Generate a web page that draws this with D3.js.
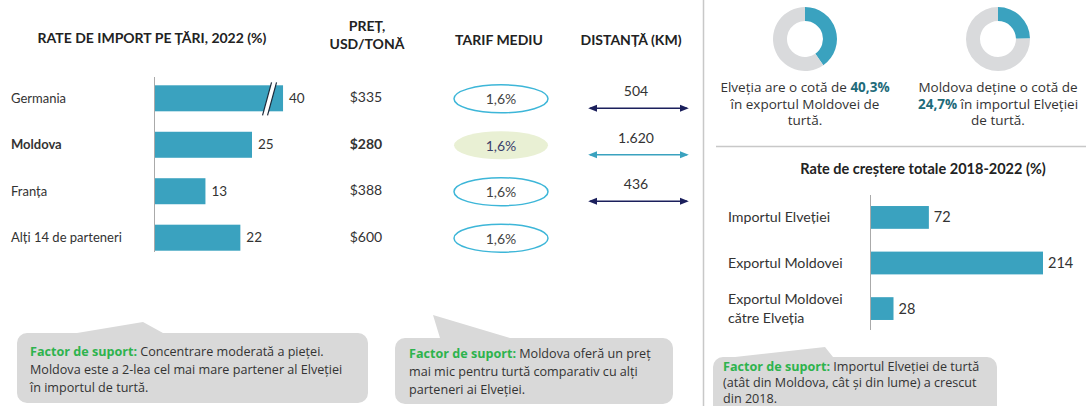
<!DOCTYPE html>
<html><head><meta charset="utf-8">
<script src="https://cdn.jsdelivr.net/npm/d3@7"></script>
<style>
html,body{margin:0;padding:0;background:#fff;}
svg{display:block;font-family:Lato, "Liberation Sans", sans-serif;}
</style></head>
<body><svg id="c" width="1086" height="406"></svg>
<script>
// ---- data ----
const countries = ["Germania", "Moldova", "Franța", "Alți 14 de parteneri"];
const importShares = [40, 25, 13, 22];
const prices = ["$335", "$280", "$388", "$600"];
const tariffs = ["1,6%", "1,6%", "1,6%", "1,6%"];
const distances = [504, 1620, 436, null];
const distanceLabels = ["504", "1.620", "436", ""];
const highlight = "Moldova";
const donutShares = [40.3, 24.7];
const growthCategories = [["Importul Elveției"], ["Exportul Moldovei"], ["Exportul Moldovei", "către Elveția"]];
const growthValues = [72, 214, 28];

const BLUE = "#3aa2bf", NAVY = "#1b1f5c", GREEN = "#2db34d", TEAL_TXT = "#1e6b7a", GRAY = "#d9d9d9", TXT = "#333";
const OPEN = "'Open Sans', 'Liberation Sans', sans-serif";

const svg = d3.select("#c");

// ---- left table ----
const yRow = d3.scaleBand().domain(countries).range([76, 260]).paddingInner(0.44).paddingOuter(0.2);
const xImp = d3.scaleLinear().domain([0, 25]).range([155, 252]);
const breakCap = 33;

function header(x, y, txt, size) {
  svg.append("text").attr("x", x).attr("y", y).attr("text-anchor", "middle")
    .attr("font-size", size || 14).attr("font-weight", "bold").attr("fill", "#222").text(txt);
}
header(152, 43, "RATE DE IMPORT PE ȚĂRI, 2022 (%)");
header(367, 31, "PREȚ,");
header(367, 49, "USD/TONĂ");
header(499, 45, "TARIF MEDIU");
header(631, 45, "DISTANȚĂ (KM)");

const g1 = svg.append("g");
g1.selectAll("rect.bar").data(countries).join("rect").attr("class", "bar")
  .attr("x", xImp(0)).attr("y", d => yRow(d))
  .attr("width", (d, i) => xImp(Math.min(importShares[i], breakCap)) - xImp(0))
  .attr("height", yRow.bandwidth()).attr("fill", BLUE);
g1.append("line").attr("x1", 154.5).attr("x2", 154.5).attr("y1", 77).attr("y2", 252)
  .attr("stroke", "#aaa").attr("stroke-width", 1);

// break marks on the truncated bar
countries.forEach((c, i) => {
  if (importShares[i] > breakCap) {
    const bx = xImp(breakCap) - 16, y0 = yRow(c) - 3, y1 = yRow(c) + yRow.bandwidth() + 4;
    const sk = 4.5;
    g1.append("polygon")
      .attr("points", `${bx - sk},${y1} ${bx + sk},${y0} ${bx + sk + 5},${y0} ${bx - sk + 5},${y1}`)
      .attr("fill", "#fff");
    g1.append("line").attr("x1", bx - sk).attr("y1", y1).attr("x2", bx + sk).attr("y2", y0).attr("stroke", "#1b2a3a").attr("stroke-width", 1.2);
    g1.append("line").attr("x1", bx - sk + 5).attr("y1", y1).attr("x2", bx + sk + 5).attr("y2", y0).attr("stroke", "#1b2a3a").attr("stroke-width", 1.2);
  }
});

const cy = d => yRow(d) + yRow.bandwidth() / 2;
g1.selectAll("text.cat").data(countries).join("text").attr("class", "cat")
  .attr("x", 11).attr("y", d => cy(d)).attr("dy", "0.35em")
  .attr("font-size", 13).attr("fill", TXT)
  .attr("font-weight", d => d === highlight ? "bold" : null).text(d => d);
g1.selectAll("text.val").data(countries).join("text").attr("class", "val")
  .attr("x", (d, i) => xImp(Math.min(importShares[i], breakCap)) + 6).attr("y", d => cy(d)).attr("dy", "0.35em")
  .attr("font-size", 13.5).attr("fill", TXT).text((d, i) => importShares[i]);

g1.selectAll("text.price").data(countries).join("text").attr("class", "price")
  .attr("x", 366).attr("y", d => cy(d) - 1).attr("dy", "0.35em").attr("text-anchor", "middle")
  .attr("font-size", 14).attr("fill", TXT).attr("font-weight", d => d === highlight ? "bold" : null)
  .text((d, i) => prices[i]);

g1.selectAll("ellipse.tar").data(countries).join("ellipse").attr("class", "tar")
  .attr("cx", 501).attr("cy", d => cy(d) + 0.5).attr("rx", 47).attr("ry", 14)
  .attr("fill", d => d === highlight ? "#e9f0d4" : "none")
  .attr("stroke", d => d === highlight ? "none" : "#3db6d8").attr("stroke-width", 1.5);
g1.selectAll("text.tar").data(countries).join("text").attr("class", "tar")
  .attr("x", 501).attr("y", d => cy(d) + 1).attr("dy", "0.35em").attr("text-anchor", "middle")
  .attr("font-size", 14).attr("fill", d => d === highlight ? "#3b3f6b" : "#444")
  .text((d, i) => tariffs[i]);

// distance arrows
const defs = svg.append("defs");
[["navy", NAVY], ["teal", BLUE]].forEach(([id, col]) => {
  defs.append("marker").attr("id", "ah-" + id).attr("viewBox", "0 0 10 10").attr("refX", 8).attr("refY", 5)
    .attr("markerWidth", 6).attr("markerHeight", 6).attr("orient", "auto-start-reverse")
    .append("path").attr("d", "M0,1 L10,5 L0,9 Z").attr("fill", col);
});
countries.forEach((c, i) => {
  if (distances[i] == null) return;
  const col = c === highlight ? "teal" : "navy";
  const ay = cy(c) + 10;
  svg.append("line").attr("x1", 590).attr("x2", 687).attr("y1", ay).attr("y2", ay)
    .attr("stroke", col === "teal" ? BLUE : NAVY).attr("stroke-width", 1.5)
    .attr("marker-start", `url(#ah-${col})`).attr("marker-end", `url(#ah-${col})`);
  svg.append("text").attr("x", 636).attr("y", cy(c) - 2).attr("text-anchor", "middle")
    .attr("font-size", 14).attr("fill", TXT).text(distanceLabels[i]);
});

// ---- divider ----
svg.append("line").attr("x1", 703.5).attr("x2", 703.5).attr("y1", 0).attr("y2", 406).attr("stroke", "#c8c8c8").attr("stroke-width", 1.5);
svg.append("line").attr("x1", 716).attr("x2", 1086).attr("y1", 146.5).attr("y2", 146.5).attr("stroke", "#c8c8c8").attr("stroke-width", 1.5);

// ---- donuts ----
const donutCx = [805, 998];
const arc = d3.arc().innerRadius(18).outerRadius(32);
const pie = d3.pie().sort(null).value(d => d);
donutShares.forEach((s, i) => {
  const g = svg.append("g").attr("transform", `translate(${donutCx[i]},39)`);
  g.selectAll("path").data(pie([s, 100 - s])).join("path").attr("d", arc)
    .attr("fill", (d, j) => j === 0 ? BLUE : "#d9dadc");
});
function richLines(x, y0, lh, lines) {
  const t = svg.append("text").attr("text-anchor", "middle").attr("font-size", 13.5)
    .attr("font-family", OPEN).attr("fill", TXT);
  lines.forEach((parts, k) => {
    parts.forEach((p, j) => {
      const ts = t.append("tspan").text(p[0]);
      if (j === 0) ts.attr("x", x).attr("y", y0 + k * lh);
      if (p[1]) ts.attr("font-weight", "bold").attr("fill", TEAL_TXT);
    });
  });
}
richLines(805, 92, 16.5, [
  [["Elveția are o cotă de "], [d3.format(".1f")(donutShares[0]).replace(".", ",") + "%", true]],
  [["în exportul Moldovei de"]],
  [["turtă."]]
]);
richLines(998, 92, 16.5, [
  [["Moldova deține o cotă de"]],
  [[d3.format(".1f")(donutShares[1]).replace(".", ",") + "%", true], [" în importul Elveției"]],
  [["de turtă."]]
]);

// ---- growth chart ----
svg.append("text").attr("x", 923).attr("y", 174).attr("text-anchor", "middle")
  .attr("font-size", 14.5).attr("font-weight", "bold").attr("fill", "#222")
  .text("Rate de creștere totale 2018-2022 (%)");
const gIdx = growthValues.map((d, i) => i);
const yG = d3.scaleBand().domain(gIdx).range([196, 330]).paddingInner(0.5).paddingOuter(0.22);
const xG = d3.scaleLinear().domain([0, 214]).range([871, 1043]);
const g2 = svg.append("g");
g2.selectAll("rect").data(gIdx).join("rect")
  .attr("x", xG(0)).attr("y", i => yG(i)).attr("width", i => xG(growthValues[i]) - xG(0))
  .attr("height", yG.bandwidth()).attr("fill", BLUE);
g2.append("line").attr("x1", 870.5).attr("x2", 870.5).attr("y1", 195).attr("y2", 330).attr("stroke", "#aaa");
g2.selectAll("text.v").data(gIdx).join("text").attr("class", "v")
  .attr("x", i => xG(growthValues[i]) + 5).attr("y", i => yG(i) + yG.bandwidth() / 2).attr("dy", "0.35em")
  .attr("font-size", 14.5).attr("fill", TXT).text(i => growthValues[i]);
gIdx.forEach(i => {
  const lines = growthCategories[i];
  const mid = yG(i) + yG.bandwidth() / 2;
  lines.forEach((l, k) => {
    g2.append("text").attr("x", 728).attr("y", mid + (k - (lines.length - 1) / 2) * 19).attr("dy", "0.35em")
      .attr("font-size", 14.2).attr("fill", TXT).text(l);
  });
});

// ---- callouts ----
function callout(x0, y0, x1, y1, tail, lines) {
  const r = 10;
  const p = d3.path();
  p.moveTo(x0 + r, y0);
  p.lineTo(tail[0], y0); p.lineTo(tail[1][0], tail[1][1]); p.lineTo(tail[2], y0);
  p.lineTo(x1 - r, y0); p.arcTo(x1, y0, x1, y0 + r, r);
  p.lineTo(x1, y1 - r); p.arcTo(x1, y1, x1 - r, y1, r);
  p.lineTo(x0 + r, y1); p.arcTo(x0, y1, x0, y1 - r, r);
  p.lineTo(x0, y0 + r); p.arcTo(x0, y0, x0 + r, y0, r);
  p.closePath();
  svg.append("path").attr("d", p.toString()).attr("fill", GRAY);
  const t = svg.append("text").attr("font-size", 12.6).attr("font-family", OPEN).attr("fill", "#333");
  lines.forEach((ln, k) => {
    ln.forEach((seg, j) => {
      const ts = t.append("tspan").text(seg[0]);
      if (j === 0) ts.attr("x", seg[2]).attr("y", seg[3]);
      if (seg[1]) ts.attr("font-weight", "bold").attr("fill", GREEN);
    });
  });
}
callout(17, 333, 368, 403, [77, [143, 322], 163], [
  [["Factor de suport:", true, 30, 356], [" Concentrare moderată a pieței."]],
  [["Moldova este a 2-lea cel mai mare partener al Elveției", false, 30, 374]],
  [["în importul de turtă.", false, 30, 392]]
]);
callout(395, 338, 673, 404, [440, [433, 315], 510], [
  [["Factor de suport:", true, 409, 358], ["  Moldova oferă un preț"]],
  [["mai mic pentru turtă comparativ cu alți", false, 409, 376]],
  [["parteneri ai Elveției.", false, 409, 394]]
]);
callout(713, 357, 997, 420, [735, [825, 347], 833], [
  [["Factor de suport:", true, 723, 371], [" Importul Elveției de turtă"]],
  [["(atât din Moldova, cât și din lume) a crescut", false, 723, 387]],
  [["din 2018.", false, 723, 403]]
]);
</script></body></html>
